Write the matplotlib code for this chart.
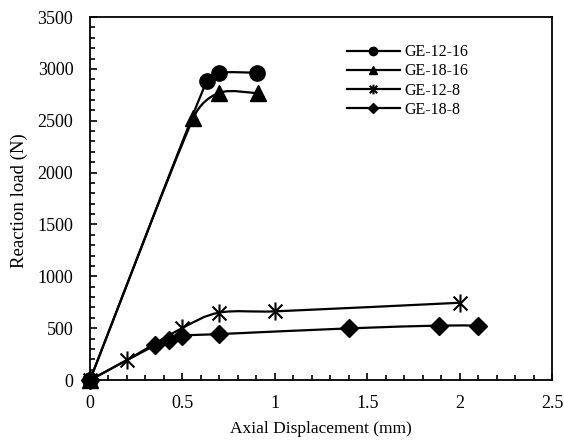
import numpy as np
import matplotlib.pyplot as plt
from matplotlib.path import Path
from matplotlib.patches import PathPatch
from matplotlib.ticker import MultipleLocator, FuncFormatter

plt.rcParams['font.family'] = ['Liberation Serif', 'DejaVu Serif']

# Curvas carga-desplazamiento
x_12_16 = [0, 0.632, 0.70, 0.905]
y_12_16 = [0, 2886, 2963, 2963]

x_18_16 = [0, 0.56, 0.70, 0.91]
y_18_16 = [0, 2530, 2770, 2765]

x_12_8 = [0, 0.20, 0.496, 0.70, 1.0, 2.0]
y_12_8 = [0, 193, 498, 650, 662, 745]

x_18_8 = [0, 0.352, 0.43, 0.496, 0.70, 1.40, 1.89, 2.097]
y_18_8 = [0, 335, 388, 427, 443, 498, 525, 525]

etiquetas = ['GE-12-16', 'GE-18-16', 'GE-12-8', 'GE-18-8']

# asterisco estilo Excel (X con barra vertical)
asterisco = Path([(-1, -1), (1, 1), (-1, 1), (1, -1), (0, -1.3), (0, 1.3)],
                 [Path.MOVETO, Path.LINETO] * 3)
marcadores = ['o', '^', asterisco, 'D']
tam_marcador = [11, 11, 13, 9]
tam_leyenda = [6, 6, 7, 5]

xmax, ymax = 2.5, 3500
# escala aproximada en pixeles para suavizar en espacio de pantalla
sx, sy = 462 / xmax, 363 / ymax


def curva_suave(ax, xs, ys):
    # Línea suavizada con segmentos Bezier cúbicos
    p = np.column_stack([np.array(xs) * sx, np.array(ys) * sy])
    n = len(p)
    verts = [p[0]]
    codes = [Path.MOVETO]
    for i in range(n - 1):
        p0 = p[i - 1] if i > 0 else p[i]
        p1, p2 = p[i], p[i + 1]
        p3 = p[i + 2] if i + 2 < n else p[i + 1]
        d = np.linalg.norm(p2 - p1)
        t1 = (p2 - p0) / 6
        t2 = (p3 - p1) / 6
        for t in (t1, t2):
            L = np.linalg.norm(t)
            if L > 0.4 * d:
                t *= 0.4 * d / L
        verts += [p1 + t1, p2 - t2, p2]
        codes += [Path.CURVE4] * 3
    verts = np.array(verts) / [sx, sy]
    ax.add_patch(PathPatch(Path(verts, codes), fill=False, lw=1.6,
                           edgecolor='black', capstyle='round'))


fig = plt.figure(figsize=(5.64, 4.45), dpi=100)
ax = fig.add_axes([0.1596, 0.146, 0.8191, 0.8157])

series = [(x_12_16, y_12_16), (x_18_16, y_18_16), (x_12_8, y_12_8), (x_18_8, y_18_8)]
for (xs, ys), lab, m, ms, ml in zip(series, etiquetas, marcadores, tam_marcador, tam_leyenda):
    curva_suave(ax, xs, ys)
    ax.plot(xs, ys, linestyle='none', marker=m, markersize=ms, color='black',
            markeredgewidth=1.5 if m is asterisco else 1.0, clip_on=False, zorder=3)
    ax.plot([], [], '-', color='black', lw=1.6, marker=m, markersize=ml,
            markeredgewidth=1.5 if m is asterisco else 1.0, label=lab)

ax.set_xlim(0, xmax)
ax.set_ylim(0, ymax)
ax.xaxis.set_major_locator(MultipleLocator(0.5))
ax.xaxis.set_minor_locator(MultipleLocator(0.1))
ax.yaxis.set_major_locator(MultipleLocator(500))
ax.yaxis.set_minor_locator(MultipleLocator(100))
ax.xaxis.set_major_formatter(FuncFormatter(lambda v, _: f'{v:g}'))
ax.tick_params(which='both', direction='in', top=False, right=False,
               labelsize=13, width=1.2, colors='black')
ax.tick_params(which='major', length=5)
ax.tick_params(axis='x', which='major', pad=11)
ax.tick_params(axis='y', which='major', pad=12)
ax.tick_params(which='minor', length=3.5)
for s in ax.spines.values():
    s.set_linewidth(1.3)

ax.set_xlabel('Axial Displacement (mm)', fontsize=12.5)
ax.set_ylabel('Reaction load (N)', fontsize=13.5)
ax.xaxis.set_label_coords(0.5, -41 / 363, transform=ax.transAxes)
ax.yaxis.set_label_coords(-62 / 462, (380 - 201) / 363, transform=ax.transAxes)

ax.legend(loc='upper left', bbox_to_anchor=(0.556, 0.925), frameon=False,
          fontsize=11.5, handlelength=3.3, handletextpad=0.3, labelspacing=0.2,
          borderpad=0, borderaxespad=0)

fig.savefig('out.png', dpi=100)
